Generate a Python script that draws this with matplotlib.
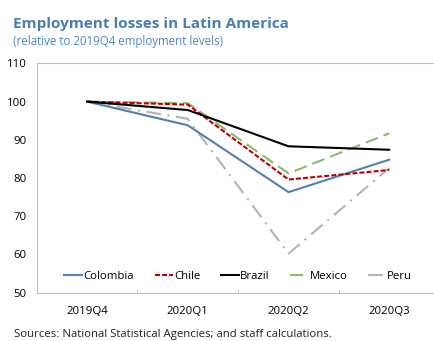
import matplotlib.pyplot as plt

plt.rcParams['font.family'] = ['Open Sans', 'DejaVu Sans']

quarters = ['2019Q4', '2020Q1', '2020Q2', '2020Q3']
colombia = [100, 93.8, 76.3, 84.8]
chile = [100, 99.2, 79.6, 82.1]
brazil = [100, 97.8, 88.3, 87.4]
mexico = [100, 99.6, 81.2, 91.7]
peru = [100, 95.5, 60.2, 82.6]

title_blue = '#4a7db3'

fig = plt.figure(figsize=(4.35, 3.41), dpi=100)
ax = fig.add_axes([0.0845, 0.142, 0.926, 0.672])

x = range(len(quarters))
lw = 1.5
ax.plot(x, peru, color='#b4b4b4', lw=lw, dashes=(7.2, 3.1, 1.0, 3.1), label='Peru')
ax.plot(x, mexico, color='#8cbb6c', lw=lw, dashes=(6.3, 2.9), label='Mexico')
ax.plot(x, colombia, color='#4f81b4', lw=lw, label='Colombia')
ax.plot(x, chile, color='#c00000', lw=lw, dashes=(2.4, 1.0), label='Chile')
ax.plot(x, brazil, color='black', lw=lw, label='Brazil')

ax.set_xlim(-0.5, 3.5)
ax.set_ylim(50, 110)
ax.set_yticks(range(50, 111, 10))
ax.set_xticks(x)
ax.set_xticklabels(quarters)
# category separators on the x axis
ax.set_xticks([0.5, 1.5, 2.5], minor=True)
ax.tick_params(axis='x', which='major', length=0, pad=10, labelsize=8.2)
ax.tick_params(axis='x', which='minor', direction='in', length=3, color='#bfbfbf')
ax.tick_params(axis='y', length=0, pad=7.5, labelsize=8.2)
for s in ax.spines.values():
    s.set_color('#bfbfbf')
    s.set_linewidth(0.8)
ax.spines['right'].set_visible(False)

h, l = ax.get_legend_handles_labels()
order = ['Colombia', 'Chile', 'Brazil', 'Mexico', 'Peru']
handles = [h[l.index(n)] for n in order]
ax.legend(handles, order, loc='lower center', bbox_to_anchor=(0.5, 0.0), ncol=5,
          frameon=False, fontsize=8.2, handlelength=1.6, handletextpad=0.1,
          columnspacing=1.8)

fig.text(0.03, 0.918, 'Employment losses in Latin America', fontsize=11,
         fontweight='bold', color=title_blue, va='baseline')
fig.text(0.03, 0.868, '(relative to 2019Q4 employment levels)', fontsize=8.3,
         color='#4f86c0', va='baseline')
fig.text(0.032, 0.012, 'Sources: National Statistical Agencies; and staff calculations.',
         fontsize=8.2, color='#222222', va='baseline')

fig.savefig('out.png', dpi=100)
